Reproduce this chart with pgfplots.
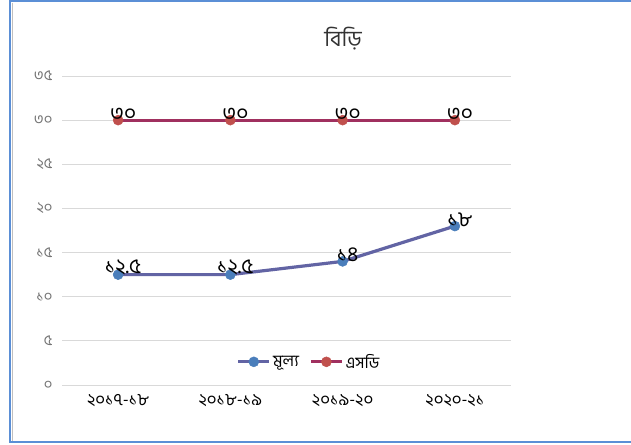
\documentclass[border=0pt]{standalone}
\usepackage{fontspec}
\usepackage{pgfplots}
\pgfplotsset{compat=1.18}
\setmainfont[Script=Bengali]{Hind Siliguri}
\definecolor{lineA}{HTML}{6264A4}
\definecolor{markA}{HTML}{4A7EBB}
\definecolor{lineB}{HTML}{A0305F}
\definecolor{markB}{HTML}{C0504D}
\definecolor{frameblue}{HTML}{5B8FD6}
\definecolor{gridgray}{HTML}{D9D9D9}
\begin{document}
\begin{tikzpicture}[x=1pt,y=1pt]
\path[use as bounding box] (0,0) rectangle (631,444);
\draw[frameblue, line width=2.5pt] (10,443) -- (631,443);
\draw[frameblue, line width=2.5pt] (10,444) -- (10,2) -- (631,2);
\draw[gray!50, line width=0.6pt] (12.5,441) -- (12.5,3.5);
\node[font=\fontsize{22}{24}\selectfont, text=black!80] at (343,405) {বিড়ি};
\begin{axis}[
  at={(62pt,59pt)}, anchor=south west,
  scale only axis, width=449pt, height=309pt,
  xmin=-0.5, xmax=3.5, ymin=0, ymax=35,
  axis line style={draw=none},
  tick style={draw=none},
  xtick={0,1,2,3},
  xticklabels={২০১৭-১৮,২০১৮-১৯,২০১৯-২০,২০২০-২১},
  ytick={0,5,10,15,20,25,30,35},
  yticklabels={০,৫,১০,১৫,২০,২৫,৩০,৩৫},
  ymajorgrids, major grid style={gridgray, line width=0.9pt},
  yticklabel style={font=\fontsize{15}{16}\selectfont, text=black!55, xshift=-6pt},
  xticklabel style={font=\fontsize{17}{18}\selectfont, text=black, yshift=-6pt},
  legend style={at={(0.55,0.075)}, anchor=center, draw=none, fill=none,
    legend columns=2, font=\fontsize{16}{17}\selectfont,
    /tikz/every even column/.append style={column sep=8pt}},
  legend cell align=left,
  legend image code/.code={\draw[mark repeat=2,mark phase=2,#1] plot coordinates {(0cm,0cm)(0.55cm,0cm)(1.1cm,0cm)};},
  point meta=explicit symbolic,
  nodes near coords,
  every node near coord/.style={font=\fontsize{21}{21}\selectfont, text=black, anchor=south, yshift=-4pt, xshift=5pt},
  clip=false,
]
\addplot[color=lineA, line width=3.2pt, mark=*, mark size=5pt, mark options={draw=markA, fill=markA, line width=0.5pt}]
  coordinates {(0,12.5) [১২.৫] (1,12.5) [১২.৫] (2,14) [১৪] (3,18) [১৮]};
\addlegendentry{মূল্য}
\addplot[color=lineB, line width=3.2pt, mark=*, mark size=5pt, mark options={draw=markB, fill=markB, line width=0.5pt}]
  coordinates {(0,30) [৩০] (1,30) [৩০] (2,30) [৩০] (3,30) [৩০]};
\addlegendentry{এসডি}
\end{axis}
\end{tikzpicture}
\end{document}
